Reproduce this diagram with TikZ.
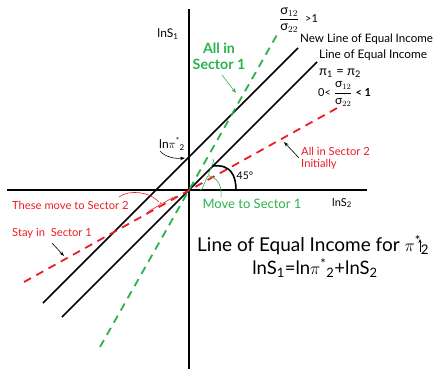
\documentclass[tikz,border=0pt]{standalone}
\usepackage{fontspec}
\usepackage{amsmath}
\setmainfont{Lato}
\usetikzlibrary{arrows.meta,decorations.pathreplacing}
\definecolor{eqgreen}{RGB}{43,178,76}
\definecolor{eqred}{RGB}{237,28,36}
\newcommand{\sg}{\text{σ}}
\newcommand{\fsz}[1]{\fontsize{#1}{#1}\selectfont}
\newcommand{\sgfrac}[1]{{\fsz{#1}$\dfrac{\sg_{12}}{\sg_{22}}$}}
\begin{document}
\begin{tikzpicture}[x=1pt,y=-1pt,
  axis/.style={line width=1.4pt},
  incline/.style={line width=1.5pt},
  gdash/.style={eqgreen,line width=1.8pt,dash pattern=on 8pt off 6pt},
  rdash/.style={eqred,line width=1.8pt,dash pattern=on 8pt off 6pt},
  thinarrow/.style={line width=0.6pt,-{Stealth[length=5pt,width=3.5pt]}},
  lbl/.style={inner sep=0pt,font=\fsz{11}},
  grn/.style={inner sep=0pt,text=eqgreen},
  rd/.style={inner sep=0pt,text=eqred,font=\fsz{11.2}},
  bracestyle/.style={decorate,decoration={brace,amplitude=3pt},line width=0.6pt}]
\useasboundingbox (0,0) rectangle (434,369);
% axes
\coordinate (Vt) at (189,9); \coordinate (Vb) at (189,369);
\coordinate (Hl) at (7,190); \coordinate (Hr) at (367,190);
\draw[axis] (Vt) -- (Vb);
\draw[axis] (Hl) -- (Hr);
% lines
\coordinate (Lt) at (317,62); \coordinate (Lb) at (62,317);
\coordinate (Nt) at (298,48); \coordinate (Nb) at (43,303);
\coordinate (Gt) at (278,33); \coordinate (Gb) at (100,347);
\coordinate (Rt) at (339,107); \coordinate (Rb) at (24,282);
\draw[incline] (Lb) -- (Lt);
\draw[incline] (Nb) -- (Nt);
\draw[gdash] (Gb) -- (Gt);
\draw[rdash] (Rb) -- (Rt);
% 45 degree arc
\coordinate (A1) at (213,166); \coordinate (A2) at (236,190);
\draw[line width=1.6pt] (A1) .. controls (231,164) and (236,176) .. (A2);
\node[lbl,font=\fsz{10.5}] (deg) at (245,176) {45°};
% labels
\node[lbl,font=\fsz{12}] (lnS1) at (168,34) {lnS\textsubscript{1}};
\node[lbl,font=\fsz{11}] (lnS2) at (342,203) {lnS\textsubscript{2}};
\node[lbl,font=\fsz{12}] (lnpi) at (172,144) {ln$\pi$\textsuperscript{*}\textsubscript{2}};
\coordinate (pa) at (160,151); \coordinate (pb) at (185,158);
\draw[thinarrow] (pa) .. controls (165,157) and (175,159) .. (pb);
% all in sector 1
\node[grn,font=\bfseries\fsz{14.2},align=center] (all1) at (219,56) {All in\\[2pt]Sector 1};
\coordinate (g1a) at (222,75); \coordinate (g1b) at (236,93);
\draw[thinarrow,eqgreen] (g1a) -- (g1b);
% top labels
\node[lbl,anchor=west,font=\fsz{11}] (gt1) at (279,20) {\sgfrac{13}\;\;>1};
\node[lbl,anchor=west,font=\fsz{11.6}] (newline) at (300,39) {New Line of Equal Income};
\node[lbl,anchor=west,font=\fsz{11.8}] (eqline) at (319,55) {Line of Equal Income};
\node[lbl,anchor=west,font=\fsz{13}] (pieq) at (319,73) {π\textsubscript{1} = π\textsubscript{2}};
\node[lbl,anchor=west,font=\fsz{11}] (lt1) at (318,94) {0<\;\sgfrac{12}\;\textbf{< 1}};
% all in sector 2
\node[rd,anchor=north west,align=left] (all2) at (301,147) {All in Sector 2\\[1pt]Initially};
\coordinate (r2a) at (299,158); \coordinate (r2b) at (284,142);
\draw[thinarrow] (r2a) -- (r2b);
% move to sector 1
\node[grn,font=\fsz{13}] (move1) at (252,204) {Move to Sector 1};
\coordinate (gb1) at (213,159); \coordinate (gb2) at (200,190);
\draw[bracestyle,eqgreen] (gb1) -- (gb2);
\coordinate (gc1) at (209,176); \coordinate (gc2) at (221,197);
\draw[eqgreen,line width=0.6pt] (gc1) .. controls (219,178) and (222,188) .. (gc2);
% these move to sector 2
\node[rd,anchor=west] (these) at (12,205) {These move to Sector 2};
\coordinate (rb1) at (147,214); \coordinate (rb2) at (177,197);
\draw[bracestyle,eqred] (rb1) -- (rb2);
\coordinate (rc1) at (119,197); \coordinate (rc2) at (159,202);
\draw[eqred,line width=0.6pt] (rc1) .. controls (130,189) and (150,192) .. (rc2);
% stay in sector 1
\node[rd,anchor=west] (stay) at (12,233) {Stay in\ \ Sector 1};
\coordinate (sa) at (52,243); \coordinate (sb) at (64,256);
\draw[thinarrow] (sa) -- (sb);
% big caption
\node[lbl,anchor=west,font=\fsz{19}] (cap1) at (197,245) {Line of Equal Income for $\pi$\textsuperscript{*}\textsubscript{2}};
\node[lbl,font=\fsz{18.5}] (cap2) at (315,268) {lnS\textsubscript{1}=ln$\pi$\textsuperscript{*}\textsubscript{2}+lnS\textsubscript{2}};
\coordinate (ua) at (420,252); \coordinate (ub) at (420,239);
\draw[line width=0.6pt,-{Stealth[length=4pt,width=3pt]}] (ua) -- (ub);
\end{tikzpicture}
\end{document}
